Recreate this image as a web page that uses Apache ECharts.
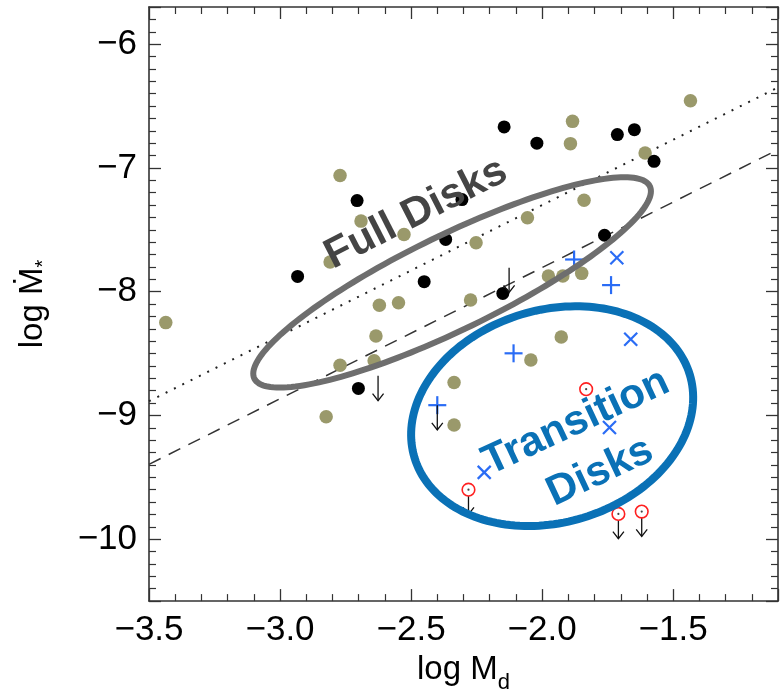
<!DOCTYPE html>
<html>
<head>
<meta charset="utf-8">
<script src="https://cdn.jsdelivr.net/npm/echarts@6/dist/echarts.min.js"></script>
<style>
  html, body { margin: 0; padding: 0; background: #fff; }
  #chart { width: 782px; height: 699px; }
</style>
</head>
<body>
<div id="chart"></div>
<script>
// log disk mass (x) vs log accretion rate (y)
const fullDisksOlive = [
  [-2.771, -7.062], [-2.691, -7.430], [-2.809, -7.760], [-3.436, -8.250],
  [-2.621, -8.110], [-2.548, -8.090], [-2.634, -8.358], [-1.884, -6.624],
  [-1.892, -6.804], [-1.434, -6.457], [-1.607, -6.879], [-1.840, -7.261],
  [-2.056, -7.403], [-2.527, -7.538], [-2.252, -7.605], [-2.273, -8.068],
  [-1.976, -7.874], [-1.921, -7.874], [-1.849, -7.852], [-1.927, -8.366],
  [-2.771, -8.594], [-2.641, -8.559], [-2.824, -9.011], [-2.043, -8.552],
  [-2.336, -8.734], [-2.336, -9.078]
];
const fullDisksBlack = [
  [-2.706, -7.264], [-2.933, -7.877], [-2.145, -6.669], [-2.020, -6.800],
  [-1.713, -6.731], [-1.648, -6.691], [-1.573, -6.947], [-2.306, -7.256],
  [-2.368, -7.578], [-1.762, -7.544], [-2.450, -7.919], [-2.150, -8.014],
  [-2.701, -8.782]
];
const transPlus = [[-1.878, -7.740], [-1.737, -7.947], [-2.109, -8.498], [-2.400, -8.917]];
const transCross = [[-1.715, -7.726], [-1.662, -8.385], [-1.743, -9.097], [-2.221, -9.460]];
const transCircle = [[-1.832, -8.788], [-2.281, -9.600], [-1.709, -9.796], [-1.620, -9.777]];
// upper limits: arrow starts at the value and points down
const upperLimits = [
  [-2.400, -8.917], [-2.281, -9.600], [-1.709, -9.796], [-1.620, -9.777],
  [-2.626, -8.680], [-2.126, -7.806]
];
const arrowLength = 0.2;

// reference relations
const dottedLine = [[-3.5, -8.885], [-1.1, -6.350]];
const dashedLine = [[-3.5, -9.395], [-1.1, -6.852]];

// region outlines: centre, first and second conjugate semi-axis vectors (data units)
const fullDisksRegion = [[-2.3435, -7.925, 0.7545, 0.777, 0.0794, -0.344]];
const transitionRegion = [[-1.9618, -9.0056, 0.525, 0.337, 0.118, -0.821]];

// region names and where they sit
const regionLabels = [
  { text: 'Full Disks', at: [-2.481, -7.369], rotate: 27, color: '#444444' },
  { text: 'Transition', at: [-1.871, -9.056], rotate: 25, color: '#0a71b6' },
  { text: 'Disks', at: [-1.779, -9.457], rotate: 25, color: '#0a71b6' }
];

const xTicks = [-3.5, -3.0, -2.5, -2.0, -1.5];
const yTicks = [-10, -9, -8, -7, -6];

const FONT = 'Liberation Sans, Arial, Helvetica, sans-serif';
const AXIS_COLOR = '#333';
const BLUE_MARK = '#2a6cf5';
const OUTLINE_BLUE = '#0a71b6';

function ellipseRenderer(color, width) {
  return function (params, api) {
    const cx = api.value(0), cy = api.value(1);
    const ux = api.value(2), uy = api.value(3), vx = api.value(4), vy = api.value(5);
    const pts = [];
    const n = 180;
    for (let i = 0; i < n; i++) {
      const t = (i / n) * Math.PI * 2;
      pts.push(api.coord([cx + ux * Math.cos(t) + vx * Math.sin(t),
                          cy + uy * Math.cos(t) + vy * Math.sin(t)]));
    }
    return { type: 'polygon', shape: { points: pts },
             style: { fill: 'none', stroke: color, lineWidth: width } };
  };
}

function plusRenderer(params, api) {
  const p = api.coord([api.value(0), api.value(1)]);
  const r = 9;
  return { type: 'group', children: [
    { type: 'line', shape: { x1: p[0] - r, y1: p[1], x2: p[0] + r, y2: p[1] }, style: { stroke: BLUE_MARK, lineWidth: 2.2 } },
    { type: 'line', shape: { x1: p[0], y1: p[1] - r, x2: p[0], y2: p[1] + r }, style: { stroke: BLUE_MARK, lineWidth: 2.2 } }
  ]};
}

function crossRenderer(params, api) {
  const p = api.coord([api.value(0), api.value(1)]);
  const r = 6.5;
  return { type: 'group', children: [
    { type: 'line', shape: { x1: p[0] - r, y1: p[1] - r, x2: p[0] + r, y2: p[1] + r }, style: { stroke: BLUE_MARK, lineWidth: 2.2 } },
    { type: 'line', shape: { x1: p[0] - r, y1: p[1] + r, x2: p[0] + r, y2: p[1] - r }, style: { stroke: BLUE_MARK, lineWidth: 2.2 } }
  ]};
}

function circleRenderer(params, api) {
  const p = api.coord([api.value(0), api.value(1)]);
  return { type: 'group', children: [
    { type: 'circle', shape: { cx: p[0], cy: p[1], r: 6.3 }, style: { fill: '#fff', stroke: '#ff2020', lineWidth: 1.6 } },
    { type: 'circle', shape: { cx: p[0], cy: p[1], r: 1.1 }, style: { fill: '#444' } }
  ]};
}

function arrowRenderer(params, api) {
  const p0 = api.coord([api.value(0), api.value(1)]);
  const p1 = api.coord([api.value(0), api.value(1) - arrowLength]);
  return { type: 'group', children: [
    { type: 'line', shape: { x1: p0[0], y1: p0[1], x2: p1[0], y2: p1[1] }, style: { stroke: '#111', lineWidth: 1.3 } },
    { type: 'polyline', shape: { points: [[p1[0] - 5.5, p1[1] - 7], [p1[0], p1[1]], [p1[0] + 5.5, p1[1] - 7]] },
      style: { stroke: '#111', lineWidth: 1.3, fill: 'none' } }
  ]};
}

function labelRenderer(params, api) {
  const item = regionLabels[params.dataIndex];
  const p = api.coord([api.value(0), api.value(1)]);
  return { type: 'text', x: p[0], y: p[1], rotation: item.rotate * Math.PI / 180,
    style: { text: item.text, fill: item.color, font: 'bold 42px ' + FONT,
             align: 'center', verticalAlign: 'middle' } };
}

function valueAxis(base) {
  return Object.assign({
    type: 'value',
    axisLine: { show: true, onZero: false, lineStyle: { color: AXIS_COLOR, width: 1.6 } },
    axisTick: { show: true, inside: true, length: 12, lineStyle: { color: AXIS_COLOR, width: 1.3 } },
    minorTick: { show: true, length: 7, lineStyle: { color: AXIS_COLOR, width: 1.2 } },
    splitLine: { show: false },
    minorSplitLine: { show: false }
  }, base);
}

const chart = echarts.init(document.getElementById('chart'), null, { renderer: 'canvas' });

const option = {
  backgroundColor: '#fff',
  animation: false,
  grid: { left: 149, right: 4, top: 7, bottom: 97 },
  xAxis: [
    valueAxis({
      min: -3.5, max: -1.1, splitNumber: 5, position: 'bottom',
      minorTick: { show: true, splitNumber: 5, length: 7, lineStyle: { color: AXIS_COLOR, width: 1.2 } },
      axisLabel: {
        show: true, margin: 12, color: '#000', fontFamily: FONT, fontSize: 35,
        showMinLabel: true, showMaxLabel: false,
        formatter: v => (xTicks.some(t => Math.abs(t - v) < 1e-6) ? (v < 0 ? '\u2212' : '') + Math.abs(v).toFixed(1) : '')
      },
      name: '{a|log M}{s|d}', nameLocation: 'middle', nameGap: 50,
      nameTextStyle: { rich: {
        a: { fontFamily: FONT, fontSize: 33, color: '#000', verticalAlign: 'bottom', padding: [0, 0, 8, 0] },
        s: { fontFamily: FONT, fontSize: 22, color: '#000', verticalAlign: 'bottom' }
      } }
    }),
    valueAxis({
      min: -3.5, max: -1.1, splitNumber: 5, position: 'top',
      minorTick: { show: true, splitNumber: 5, length: 7, lineStyle: { color: AXIS_COLOR, width: 1.2 } },
      axisLabel: { show: false }
    })
  ],
  yAxis: [
    valueAxis({
      min: -10.5, max: -5.7, splitNumber: 5, position: 'left',
      minorTick: { show: true, splitNumber: 10, length: 7, lineStyle: { color: AXIS_COLOR, width: 1.2 } },
      axisLabel: {
        show: true, margin: 12, color: '#000', fontFamily: FONT, fontSize: 35,
        showMinLabel: false, showMaxLabel: false,
        formatter: v => (yTicks.some(t => Math.abs(t - v) < 1e-6) ? (v < 0 ? '\u2212' : '') + Math.abs(v).toFixed(0) : '')
      },
      name: '{a|log \u1E40}{s|*}', nameLocation: 'middle', nameRotate: 90, nameGap: 96,
      nameTextStyle: { rich: {
        a: { fontFamily: FONT, fontSize: 33, color: '#000', verticalAlign: 'bottom', padding: [0, 0, 4, 0] },
        s: { fontFamily: FONT, fontSize: 20, color: '#000', verticalAlign: 'bottom' }
      } }
    }),
    valueAxis({
      min: -10.5, max: -5.7, splitNumber: 5, position: 'right',
      minorTick: { show: true, splitNumber: 10, length: 7, lineStyle: { color: AXIS_COLOR, width: 1.2 } },
      axisLabel: { show: false }
    })
  ],
  series: [
    { type: 'line', data: dottedLine, symbol: 'none', z: 1,
      lineStyle: { color: '#222', width: 2, type: [2, 7.3] } },
    { type: 'line', data: dashedLine, symbol: 'none', z: 1,
      lineStyle: { color: '#333', width: 1.5, type: [13, 9] } },
    { type: 'scatter', data: fullDisksOlive, symbol: 'circle', symbolSize: 13.5, z: 2,
      itemStyle: { color: '#9a996b', opacity: 1 } },
    { type: 'scatter', data: fullDisksBlack, symbol: 'circle', symbolSize: 13, z: 2,
      itemStyle: { color: '#000', opacity: 1 } },
    { type: 'custom', data: transPlus, renderItem: plusRenderer, encode: { x: 0, y: 1 }, z: 3 },
    { type: 'custom', data: transCross, renderItem: crossRenderer, encode: { x: 0, y: 1 }, z: 3 },
    { type: 'custom', data: upperLimits, renderItem: arrowRenderer, encode: { x: 0, y: 1 }, z: 3 },
    { type: 'custom', data: transCircle, renderItem: circleRenderer, encode: { x: 0, y: 1 }, z: 4 },
    { type: 'custom', data: fullDisksRegion, renderItem: ellipseRenderer('#6e6e6e', 6),
      encode: { x: 0, y: 1 }, z: 5, silent: true },
    { type: 'custom', data: transitionRegion, renderItem: ellipseRenderer(OUTLINE_BLUE, 8),
      encode: { x: 0, y: 1 }, z: 5, silent: true },
    { type: 'custom', data: regionLabels.map(d => d.at), renderItem: labelRenderer,
      encode: { x: 0, y: 1 }, z: 6, silent: true }
  ]
};

chart.setOption(option);
</script>
</body>
</html>
